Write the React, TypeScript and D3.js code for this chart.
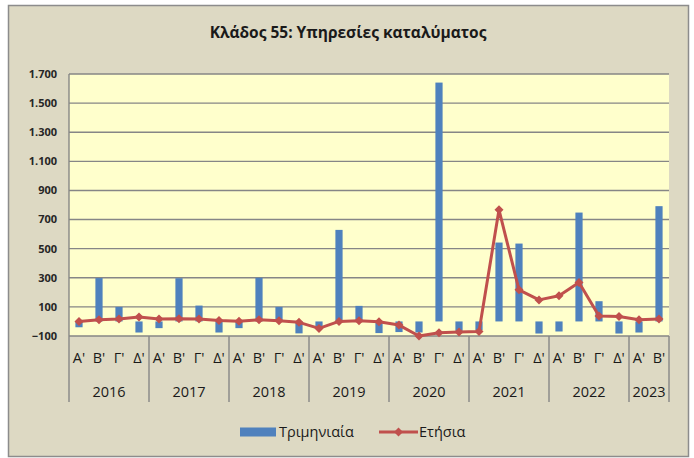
import React from "react";
import * as d3 from "d3";

const years = ["2016", "2017", "2018", "2019", "2020", "2021", "2022", "2023"];
const quartersPerYear = [4, 4, 4, 4, 4, 4, 4, 2];
const quarterNames = ["Α'", "Β'", "Γ'", "Δ'"];

// Τριμηνιαία (bars)
const quarterly = [
  -40, 298, 100, -76,
  -46, 297, 109, -76,
  -46, 300, 100, -82,
  -35, 629, 107, -80,
  -73, -76, 1641, -65,
  -60, 542, 535, -83,
  -69, 748, 139, -83,
  -76, 792,
];

// Ετήσια (line)
const annual = [
  0, 11, 16, 30,
  16, 18, 16, 6,
  2, 11, 4, -6,
  -48, 0, 4, -2,
  -25, -100, -78, -73,
  -69, 767, 217, 148,
  176, 267, 38, 34,
  11, 16,
];

const yTicks = [-100, 100, 300, 500, 700, 900, 1100, 1300, 1500, 1700];

const W = 694;
const H = 458;
const plot = { left: 69, right: 669, top: 74, bottom: 336 };

const FONT = "'Open Sans', 'Noto Sans', sans-serif";

const locale = d3.formatLocale({
  decimal: ",",
  thousands: ".",
  grouping: [3],
  currency: ["", "€"],
});
const fmt = locale.format(",d");

export default function App() {
  const cats: { key: string; q: string; year: string }[] = [];
  years.forEach((y, yi) => {
    for (let i = 0; i < quartersPerYear[yi]; i++) {
      cats.push({ key: `${y}-${i}`, q: quarterNames[i], year: y });
    }
  });

  const x = d3
    .scaleBand<string>()
    .domain(cats.map((c) => c.key))
    .range([plot.left, plot.right])
    .paddingInner(0.64)
    .paddingOuter(0.32);

  const y = d3.scaleLinear().domain([-100, 1700]).range([plot.bottom, plot.top]);

  const cx = (k: string) => (x(k) as number) + x.bandwidth() / 2;
  const step = x.step();

  const linePath = d3
    .line<number>()
    .x((_, i) => cx(cats[i].key))
    .y((d) => y(d))(annual) as string;

  const diamond = (px: number, py: number, r = 4.5) =>
    `M${px},${py - r}L${px + r},${py}L${px},${py + r}L${px - r},${py}Z`;

  // year separators
  const yearBounds: { x0: number; x1: number; year: string }[] = [];
  let idx = 0;
  years.forEach((yr, yi) => {
    const n = quartersPerYear[yi];
    const x0 = (x(cats[idx].key) as number) - (step - x.bandwidth()) / 2;
    const x1 = x0 + n * step;
    yearBounds.push({ x0, x1, year: yr });
    idx += n;
  });

  const gridColor = "#868686";

  return (
    <svg
      width={W}
      height={H}
      style={{ position: "absolute", left: 0, top: 0, background: "#ffffff" }}
      fontFamily={FONT}
    >
      <rect x={8.5} y={5.5} width={680} height={451} fill="#ddd9c3" stroke="#8c8c8c" strokeWidth={1.5} />
      <text
        x={348}
        y={38}
        textAnchor="middle"
        fontSize={15.5}
        fontWeight="bold"
        fill="#1a1a1a"
      >
        Κλάδος 55: Υπηρεσίες καταλύματος
      </text>

      <rect
        x={plot.left}
        y={plot.top}
        width={plot.right - plot.left}
        height={plot.bottom - plot.top}
        fill="#ffffcc"
      />
      {yTicks.map((t) => (
        <g key={t}>
          <line
            x1={plot.left}
            x2={plot.right}
            y1={y(t)}
            y2={y(t)}
            stroke={gridColor}
            strokeWidth={1.4}
          />
          <text
            x={57}
            y={y(t)}
            dy="0.35em"
            textAnchor="end"
            fontSize={11}
            fontWeight="bold"
            fill="#262626"
          >
            {fmt(t)}
          </text>
        </g>
      ))}
      <line x1={plot.left} x2={plot.left} y1={plot.top} y2={plot.bottom} stroke={gridColor} strokeWidth={1.4} />

      {quarterly.map((v, i) => {
        const k = cats[i].key;
        const y0 = y(0);
        const y1 = y(v);
        return (
          <rect
            key={k}
            x={x(k)}
            y={Math.min(y0, y1)}
            width={x.bandwidth()}
            height={Math.abs(y1 - y0)}
            fill="#4f81bd"
          />
        );
      })}

      <path d={linePath} fill="none" stroke="#c0504d" strokeWidth={3} strokeLinejoin="round" />
      {annual.map((v, i) => (
        <path key={i} d={diamond(cx(cats[i].key), y(v))} fill="#c0504d" />
      ))}

      {/* category axis */}
      {yearBounds.map((b, i) => (
        <g key={b.year}>
          <line x1={b.x0} x2={b.x0} y1={plot.bottom} y2={402} stroke={gridColor} strokeWidth={1.4} />
          {i === yearBounds.length - 1 && (
            <line x1={b.x1} x2={b.x1} y1={plot.bottom} y2={402} stroke={gridColor} strokeWidth={1.4} />
          )}
          <text
            x={(b.x0 + b.x1) / 2}
            y={392}
            dy="0.35em"
            textAnchor="middle"
            fontSize={14.5}
            fill="#1a1a1a"
          >
            {b.year}
          </text>
        </g>
      ))}
      {cats.map((c) => (
        <text
          key={c.key}
          x={cx(c.key)}
          y={358}
          dy="0.35em"
          textAnchor="middle"
          fontSize={14.5}
          fill="#1a1a1a"
        >
          {c.q}
        </text>
      ))}

      {/* legend */}
      <rect x={240} y={427.5} width={36} height={9} fill="#4f81bd" />
      <text x={279} y={432} dy="0.35em" fontSize={14.5} fill="#1a1a1a">
        Τριμηνιαία
      </text>
      <line x1={379} x2={418} y1={432} y2={432} stroke="#c0504d" strokeWidth={3} />
      <path d={diamond(398.5, 432)} fill="#c0504d" />
      <text x={419} y={432} dy="0.35em" fontSize={14.5} fill="#1a1a1a">
        Ετήσια
      </text>
    </svg>
  );
}
